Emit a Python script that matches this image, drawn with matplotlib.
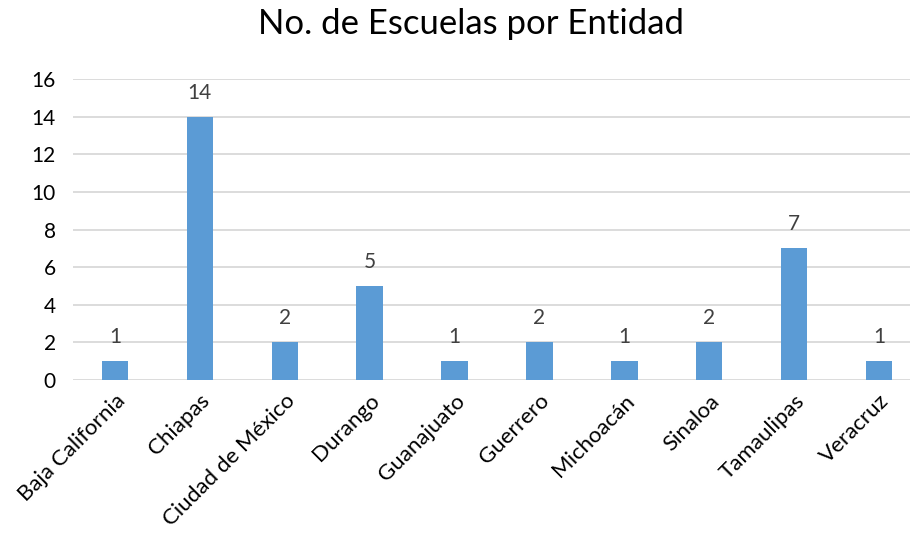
import matplotlib.pyplot as plt
import numpy as np

plt.rcParams['font.family'] = ['Lato', 'DejaVu Sans']

entidades = ['Baja California', 'Chiapas', 'Ciudad de México', 'Durango', 'Guanajuato',
             'Guerrero', 'Michoacán', 'Sinaloa', 'Tamaulipas', 'Veracruz']
escuelas = [1, 14, 2, 5, 1, 2, 1, 2, 7, 1]
yticks = [0, 2, 4, 6, 8, 10, 12, 14, 16]

fig = plt.figure(figsize=(9.1, 5.37), dpi=100)
# plot area is a bit wider than the picture, like the original (clipped on the right)
ax = fig.add_axes([72.5 / 910, 1 - 379.7 / 537, 849 / 910, 300.4 / 537])

x = np.arange(len(entidades))
ax.bar(x, escuelas, width=0.31, color='#5B9BD5', zorder=3)

for xi, v in zip(x, escuelas):
    ax.annotate(str(v), (xi, v), xytext=(0, 10), textcoords='offset points',
                ha='center', va='bottom', fontsize=15, color='#404040')

ax.set_xlim(-0.5, len(entidades) - 0.5)
ax.set_ylim(0, 16)
ax.set_yticks(yticks)
ax.set_yticklabels([str(t) for t in yticks], fontsize=15, color='#000000')
ax.set_xticks(x)
ax.set_xticklabels(entidades, rotation=45, ha='right', rotation_mode='anchor',
                   fontsize=16, color='#000000')
ax.tick_params(axis='both', length=0)
ax.tick_params(axis='y', pad=12)
ax.tick_params(axis='x', pad=8)
ax.grid(axis='y', color='#D9D9D9', linewidth=1.3, zorder=0)
for s in ax.spines.values():
    s.set_visible(False)

fig.text(471 / 910, 1 - 24 / 537, 'No. de Escuelas por Entidad', ha='center', va='center',
         fontsize=25, color='#000000')

fig.savefig('out.png', dpi=100)
